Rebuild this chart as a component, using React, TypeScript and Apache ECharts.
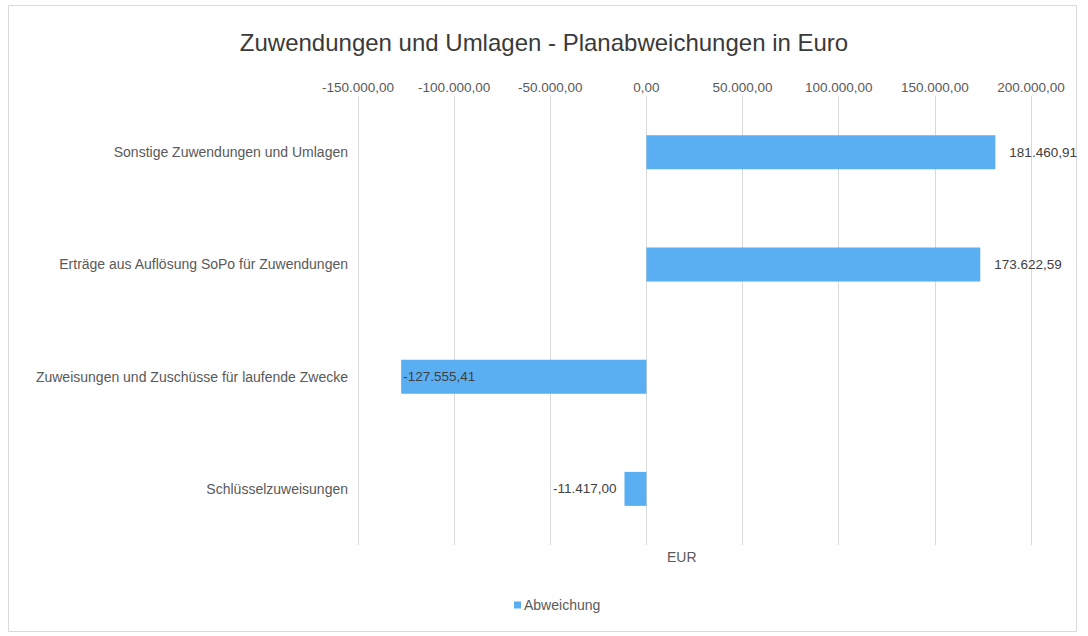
import React, { useEffect, useRef } from "react";
import * as echarts from "echarts";

const categories = [
  "Sonstige Zuwendungen und Umlagen",
  "Erträge aus Auflösung SoPo für Zuwendungen",
  "Zuweisungen und Zuschüsse für laufende Zwecke",
  "Schlüsselzuweisungen",
];
const values = [181460.91, 173622.59, -127555.41, -11417.0];
const labelPositions = ["right", "right", "insideLeft", "left"];
const seriesName = "Abweichung";
const titleText = "Zuwendungen und Umlagen - Planabweichungen in Euro";
const axisName = "EUR";

function fmtDe(v: number): string {
  const neg = v < 0;
  const abs = Math.abs(v);
  const fixed = abs.toFixed(2);
  const [intPart, dec] = fixed.split(".");
  const withDots = intPart.replace(/\B(?=(\d{3})+(?!\d))/g, ".");
  return (neg ? "-" : "") + withDots + "," + dec;
}

export default function App() {
  const ref = useRef<HTMLDivElement>(null);
  useEffect(() => {
    if (!ref.current) return;
    const chart = echarts.init(ref.current, undefined, { renderer: "svg" });
    const font = "Liberation Sans, Arial, sans-serif";
    chart.setOption({
      animation: false,
      backgroundColor: "#ffffff",
      textStyle: { fontFamily: font },
      title: {
        text: titleText,
        left: "center",
        top: 25,
        textStyle: { fontSize: 24, fontWeight: "normal", color: "#3a3a3a", fontFamily: font },
      },
      legend: {
        bottom: 19,
        left: 509,
        icon: "rect",
        itemWidth: 7,
        itemHeight: 7,
        itemGap: 4,
        textStyle: { fontSize: 14, color: "#595959", fontFamily: font, padding: [0, 0, 0, -2] },
        data: [seriesName],
      },
      grid: { left: 358, right: 57, top: 96, bottom: 91, containLabel: false },
      xAxis: {
        type: "value",
        position: "top",
        min: -150000,
        max: 200000,
        interval: 50000,
        axisLine: { show: false },
        axisTick: { show: false },
        splitLine: { show: true, lineStyle: { color: "#d9d9d9", width: 1 } },
        axisLabel: {
          fontSize: 13.5,
          color: "#595959",
          fontFamily: font,
          margin: 2,
          formatter: (v: number) => fmtDe(v),
        },
      },
      yAxis: {
        type: "category",
        inverse: true,
        data: categories,
        axisLine: { show: false, onZero: false },
        axisTick: { show: false },
        splitLine: { show: false },
        axisLabel: { fontSize: 14, color: "#595959", fontFamily: font, margin: 10 },
      },
      series: [
        {
          name: seriesName,
          type: "bar",
          barWidth: 34,
          itemStyle: { color: "#5aaef2" },
          data: values.map((v, i) => ({
            value: v,
            label: {
              show: true,
              position: labelPositions[i],
              distance: labelPositions[i] === "insideLeft" ? 2 : labelPositions[i] === "left" ? 8 : 14,
              fontSize: 13.5,
              color: "#404040",
              fontFamily: font,
              formatter: (p: any) => fmtDe(p.value as number),
            },
          })),
        },
      ],
      graphic: [
        {
          type: "rect",
          shape: { x: 8.5, y: 5.5, width: 1068, height: 626 },
          style: { fill: "none", stroke: "#d9d9d9", lineWidth: 1 },
          silent: true,
        },
        {
          type: "text",
          left: 667,
          top: 550,
          style: { text: axisName, fontSize: 14, fill: "#595959", fontFamily: font },
        },
      ],
    });
    return () => chart.dispose();
  }, []);
  return (
    <div
      ref={ref}
      style={{ position: "fixed", left: 0, top: 0, width: 1088, height: 636 }}
    />
  );
}
